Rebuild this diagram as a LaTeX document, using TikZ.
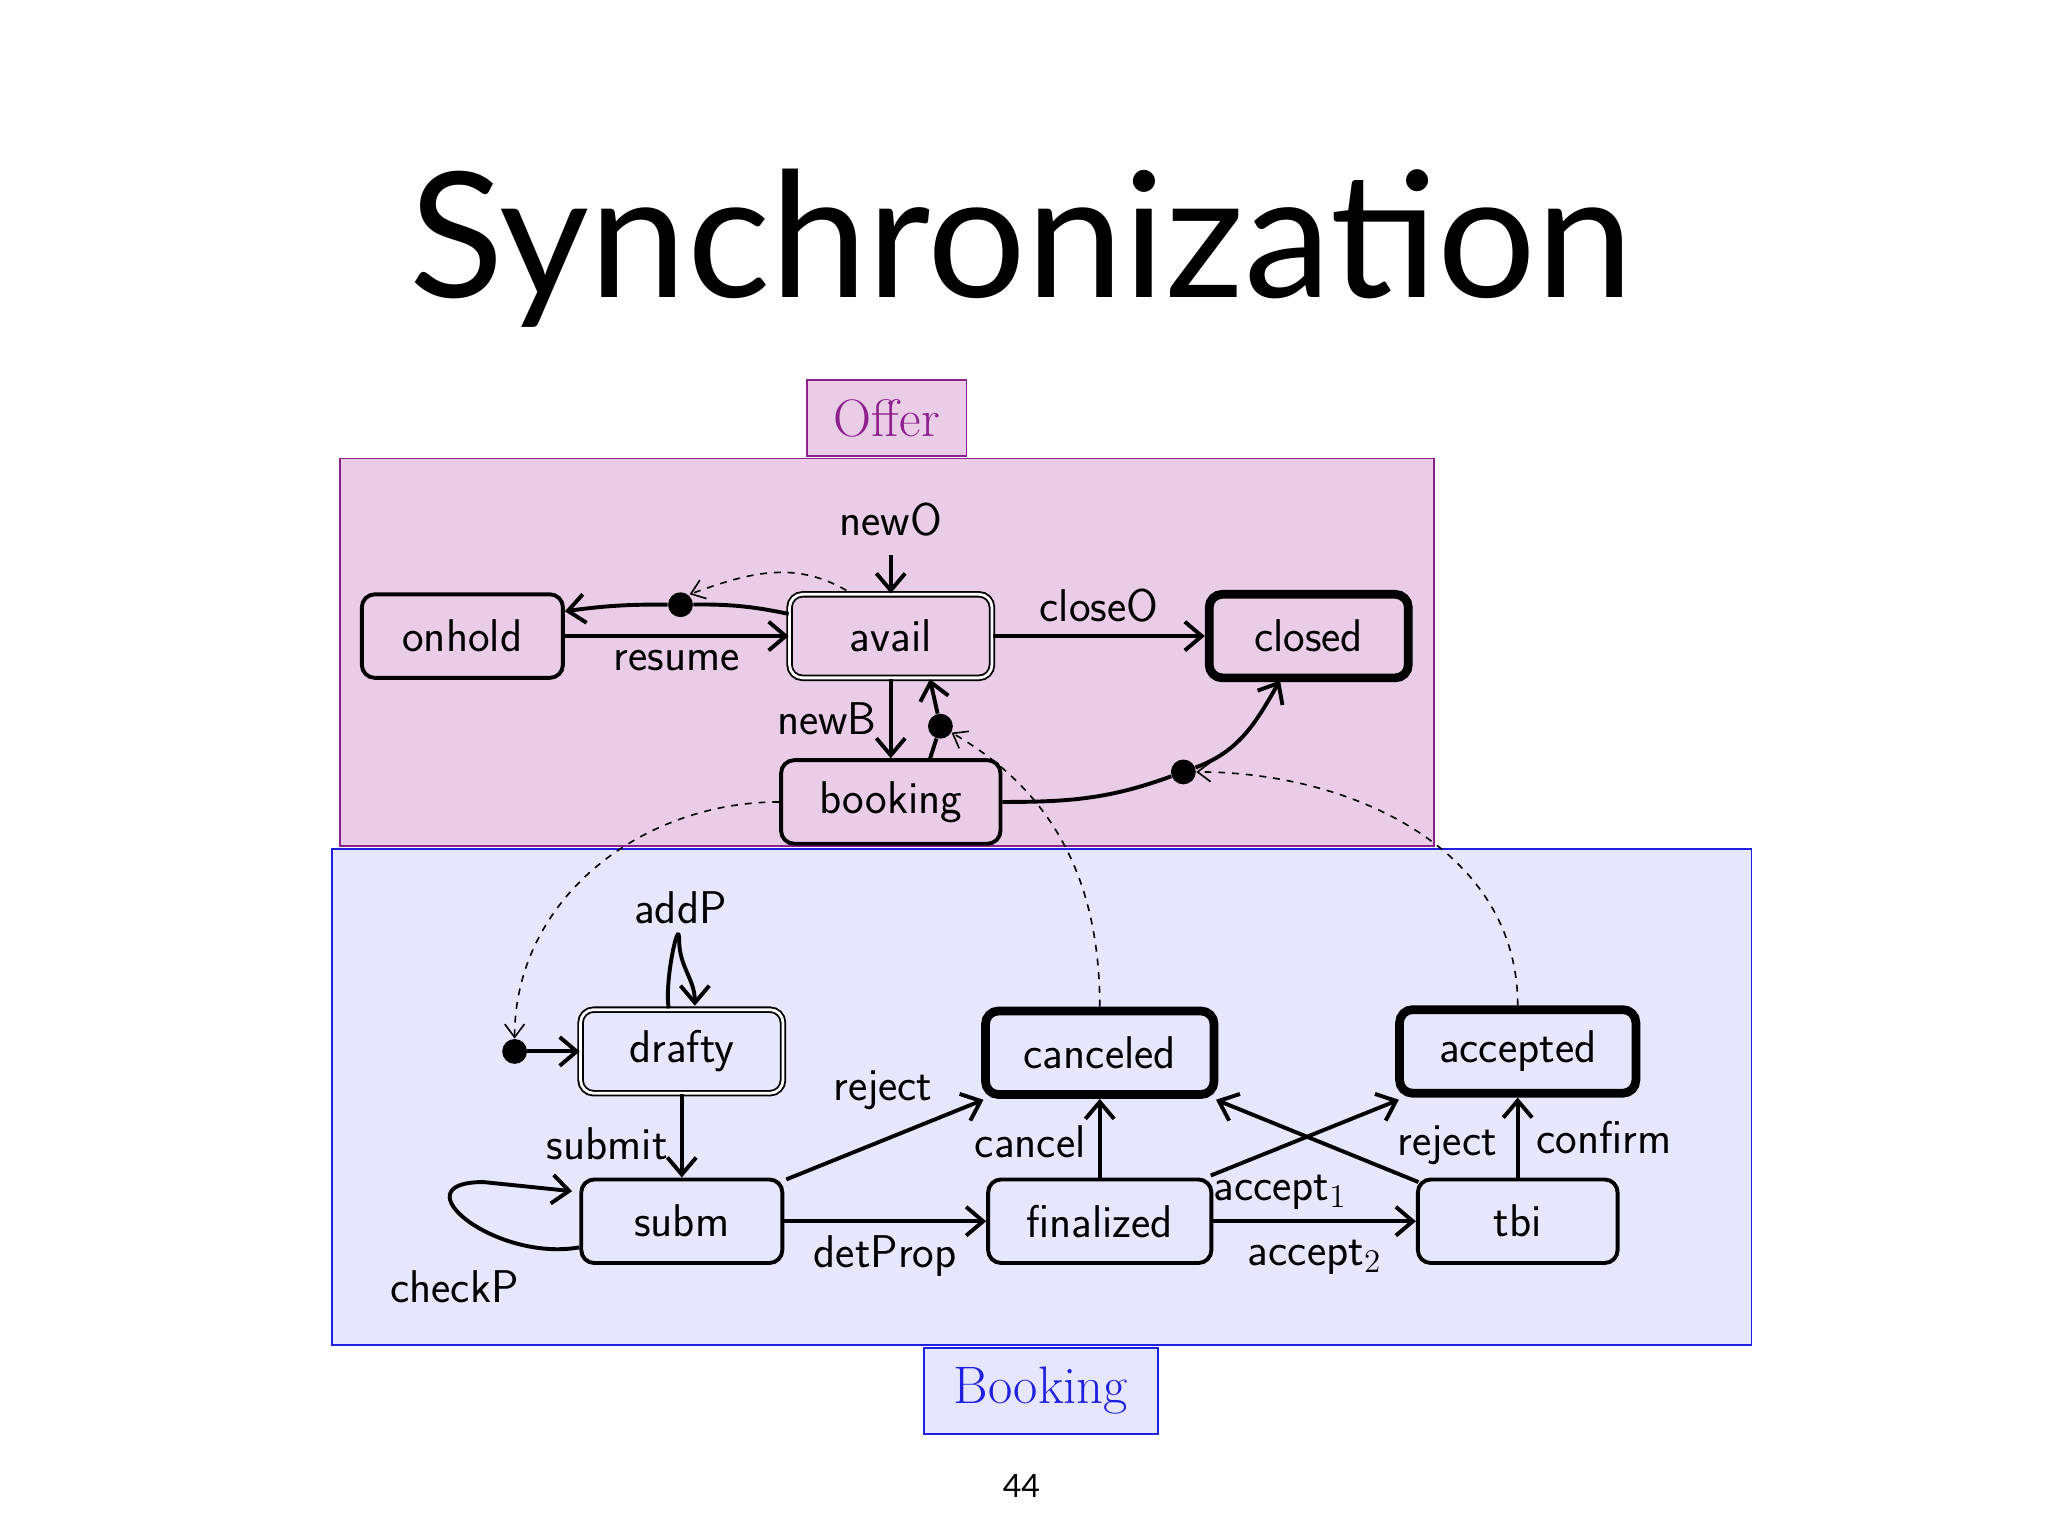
\documentclass[tikz,border=0pt]{standalone}
\usepackage{fontspec}
\newfontfamily\titlefont{Lato}
\usetikzlibrary{arrows.meta}
\definecolor{offfill}{HTML}{E9CCE6}
\definecolor{offline}{HTML}{8E1F8E}
\definecolor{bkfill}{HTML}{E6E6FC}
\definecolor{bkline}{HTML}{2020E0}
\begin{document}
\begin{tikzpicture}[x=0.02cm,y=-0.02cm,
  st/.style={draw,line width=1.7pt,rounded corners=0.2cm,fill=offfill,font=\sffamily\fontsize{20}{24}\selectfont,minimum height=1.28cm,inner sep=0pt},
  dbl/.style={st,double,double distance=1.2pt,line width=0.8pt},
  fin/.style={st,line width=3.8pt},
  e/.style={line width=1.7pt,-{Straight Barb[length=2.6mm,width=4.4mm]}},
  dsh/.style={dashed,line width=0.7pt,-{Straight Barb[length=2mm,width=3mm]}},
  lab/.style={font=\sffamily\fontsize{20}{24}\selectfont},
  dot/.style={circle,fill=black,inner sep=0pt,minimum size=0.38cm}]
\useasboundingbox (0,0) rectangle (1568,1176);
\fill[white] (0,0) rectangle (1568,1176);
\node[font=\titlefont\fontsize{76}{80}\selectfont] (title) at (782,190) {Synchronization};
% regions
\draw[offline,fill=offfill,line width=0.8pt] (260,351) rectangle (1098,648);
\node[draw=offline,fill=offfill,line width=0.8pt,minimum width=2.44cm,minimum height=1.16cm,text=offline,font=\fontsize{23}{26}\selectfont] (offer) at (679,320) {Offer};
\draw[bkline,fill=bkfill,line width=0.8pt] (254,650) rectangle (1341,1030);
\node[draw=bkline,fill=bkfill,line width=0.8pt,minimum width=3.58cm,minimum height=1.32cm,text=bkline,font=\fontsize{23}{26}\selectfont] (bk) at (797,1065) {Booking};
% offer states
\node[st,minimum width=3.08cm] (onhold) at (354,487) {onhold};
\node[dbl,minimum width=3.1cm] (avail) at (682,487) {avail};
\node[fin,minimum width=3.05cm] (closed) at (1002,487) {closed};
\node[st,minimum width=3.36cm] (booking) at (682,614) {booking};
\node[dot] (d1) at (521,463) {};
\node[dot] (d2) at (720,556) {};
\node[dot] (d3) at (906,591) {};
\coordinate (nO) at (682,425);
\node[lab] (newO) at (682,398) {newO};
\draw[e] (nO) -- (avail.north);
\draw[line width=1.7pt] (avail.west|-0,470) to[bend right=6] (d1);
\draw[e] (d1) to[bend right=4] (onhold.east|-0,468);
\draw[e] (onhold.east|-0,487) -- node[lab,below=2pt] {resume} (avail.west|-0,487);
\draw[e] (avail) -- node[lab,above=2pt] {closeO} (closed);
\draw[e] (avail.south) -- node[lab,left=2pt] {newB} (booking.north);
\draw[line width=1.7pt] (712,581) -- (d2);
\draw[e] (d2) -- (712,520);
\draw[line width=1.7pt] (booking.east) to[out=0,in=200] (d3);
\draw[e] (d3) to[out=20,in=240] (980,521);
\draw[dsh] (648,452) to[out=150,in=20] (528,455);
% booking states
\node[dbl,fill=bkfill,minimum width=3.1cm] (drafty) at (522,805) {drafty};
\node[fin,fill=bkfill,minimum width=3.5cm] (canceled) at (842,806) {canceled};
\node[fin,fill=bkfill,minimum width=3.62cm] (accepted) at (1162,805) {accepted};
\node[st,fill=bkfill,minimum width=3.08cm] (subm) at (522,935) {subm};
\node[st,fill=bkfill,minimum width=3.42cm] (finalized) at (842,935) {finalized};
\node[st,fill=bkfill,minimum width=3.06cm] (tbi) at (1162,935) {tbi};
\node[dot] (d0) at (394,805) {};
\draw[dsh] (booking.west) to[out=180,in=90] (d0.north);
\draw[dsh] (canceled.north) to[out=90,in=-30] (d2);
\draw[dsh] (accepted.north) to[out=90,in=0] (d3);
\draw[e] (d0) -- (drafty.west);
\draw[e] (512,772) to[out=100,in=90,looseness=1] (520,720) to[out=-90,in=90] (532,770);
\node[lab] (addP) at (521,695) {addP};
\draw[e] (drafty.south) -- node[lab,left=2pt,pos=0.6] {submit} (subm.north);
\draw[e] (subm.west|-0,955) to[out=190,in=180,looseness=1.9] (370,905) to (438,912);
\node[lab] (checkP) at (348,985) {checkP};
\draw[e] (602,903) -- (753,842);
\node[lab] (rj1) at (676,835) {reject};
\draw[e] (subm) -- node[lab,below=2pt] {detProp} (finalized);
\draw[e] (finalized.north) -- node[lab,left=2pt,pos=0.45] {cancel} (canceled.south);
\draw[e] (927,900) -- (1071,842);
\draw[e] (1086,905) -- (931,842);
\node[lab] (a1) at (980,913) {accept$_1$};
\node[lab] (rj) at (1108,877) {reject};
\draw[e] (finalized) -- node[lab,below=4pt] {accept$_2$} (tbi);
\draw[e] (tbi.north) -- node[lab,right=4pt] {confirm} (accepted.south);
\node[font=\titlefont\fontsize{14}{16}\selectfont] (pg) at (782,1138) {44};
\end{tikzpicture}
\end{document}
